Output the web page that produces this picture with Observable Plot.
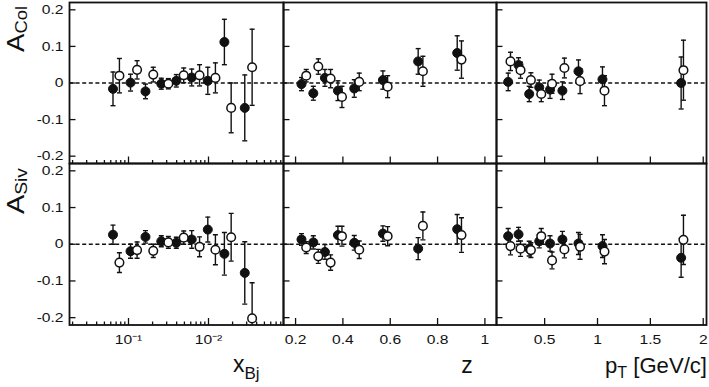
<!DOCTYPE html>
<html>
<head>
<meta charset="utf-8">
<script src="https://cdn.jsdelivr.net/npm/d3@7"></script>
<script src="https://cdn.jsdelivr.net/npm/@observablehq/plot@0.6"></script>
<style>
  body { margin: 0; background: #fff; }
  #chart { position: relative; width: 709px; height: 387px; overflow: hidden; background: #fff;
           font-family: "Liberation Sans", Arial, sans-serif; }
  #chart svg { position: absolute; overflow: visible; }
</style>
</head>
<body>
<div id="chart"></div>
<script>
// ---------------- data ----------------
// x_Bj bins (filled / open series are slightly offset)
const xbjFilledX = [0.0064, 0.0106, 0.0163, 0.0257, 0.0396, 0.0617, 0.098, 0.158, 0.284];
const xbjOpenX   = [0.0077, 0.0128, 0.0204, 0.0315, 0.049, 0.0773, 0.122, 0.192, 0.351];
const colXbjFilled    = [-0.016, 0.001, -0.023, -0.002, 0.006, 0.015, 0.006, 0.112, -0.068];
const colXbjFilledErr = [0.046, 0.023, 0.020, 0.015, 0.017, 0.023, 0.037, 0.062, 0.090];
const colXbjOpen      = [0.020, 0.036, 0.023, -0.002, 0.021, 0.021, 0.014, -0.068, 0.043];
const colXbjOpenErr   = [0.047, 0.025, 0.020, 0.014, 0.020, 0.029, 0.041, 0.068, 0.104];
const sivXbjFilled    = [0.026, -0.019, 0.020, 0.008, 0.004, 0.013, 0.040, -0.026, -0.078];
const sivXbjFilledErr = [0.026, 0.019, 0.017, 0.015, 0.015, 0.024, 0.034, 0.058, 0.085];
const sivXbjOpen      = [-0.050, -0.016, -0.018, 0.005, 0.018, -0.007, -0.015, 0.019, -0.202];
const sivXbjOpenErr   = [0.027, 0.022, 0.018, 0.016, 0.018, 0.027, 0.041, 0.065, 0.097];

// z bins
const zFilledX = [0.225, 0.275, 0.324, 0.379, 0.448, 0.569, 0.718, 0.883];
const zOpenX   = [0.245, 0.296, 0.348, 0.396, 0.469, 0.589, 0.738, 0.901];
const colZFilled    = [-0.003, -0.028, 0.014, -0.021, -0.015, 0.008, 0.059, 0.082];
const colZFilledErr = [0.018, 0.019, 0.023, 0.027, 0.024, 0.025, 0.035, 0.047];
const colZOpen      = [0.020, 0.045, 0.012, -0.038, 0.003, -0.010, 0.032, 0.064];
const colZOpenErr   = [0.017, 0.021, 0.025, 0.029, 0.024, 0.030, 0.041, 0.051];
const sivZFilled    = [0.013, 0.005, -0.021, 0.025, 0.004, 0.029, -0.012, 0.041];
const sivZFilledErr = [0.016, 0.018, 0.020, 0.024, 0.020, 0.021, 0.030, 0.040];
const sivZOpen      = [-0.009, -0.033, -0.050, 0.022, -0.015, 0.022, 0.050, 0.025];
const sivZOpenErr   = [0.016, 0.019, 0.021, 0.027, 0.024, 0.026, 0.038, 0.047];

// pT bins
const ptFilledX = [0.155, 0.253, 0.354, 0.449, 0.551, 0.668, 0.82, 1.047, 1.791];
const ptOpenX   = [0.177, 0.272, 0.37, 0.468, 0.57, 0.687, 0.835, 1.066, 1.813];
const colPtFilled    = [0.003, 0.049, -0.030, -0.012, -0.018, -0.021, 0.032, 0.010, 0.000];
const colPtFilledErr = [0.024, 0.020, 0.021, 0.020, 0.024, 0.024, 0.031, 0.034, 0.071];
const colPtOpen      = [0.059, 0.035, 0.008, -0.030, -0.002, 0.041, 0.005, -0.021, 0.035];
const colPtOpenErr   = [0.025, 0.022, 0.020, 0.021, 0.026, 0.027, 0.034, 0.041, 0.082];
const sivPtFilled    = [0.022, 0.027, -0.012, 0.008, 0.002, 0.013, 0.002, -0.005, -0.037];
const sivPtFilledErr = [0.021, 0.019, 0.020, 0.018, 0.021, 0.022, 0.030, 0.031, 0.053];
const sivPtOpen      = [-0.005, -0.012, -0.016, 0.022, -0.044, -0.014, -0.007, -0.020, 0.012];
const sivPtOpenErr   = [0.024, 0.021, 0.020, 0.021, 0.023, 0.023, 0.034, 0.033, 0.067];

// ticks & labels
const yTicks = [-0.2, -0.1, 0, 0.1, 0.2];
const yTickLabels = ["-0.2", "-0.1", "0", "0.1", "0.2"];
const xbjTicks = [0.01, 0.1];
const xbjTickLabels = ["10\u207B\u00B9", "10\u207B\u00B2"];
const zTicks = [0.2, 0.4, 0.6, 0.8, 1];
const zTickLabels = ["0.2", "0.4", "0.6", "0.8", "1"];
const ptTicks = [0.5, 1, 1.5, 2];
const ptTickLabels = ["0.5", "1", "1.5", "2"];
const rowTitles = ["Col", "Siv"];

// ---------------- layout ----------------
const colEdges = [69, 283, 496, 706];
const rowEdges = [1.5, 162.5, 324];
const yDomain = [-0.22, 0.22];
const xbjDomain = [0.00183, 0.866];
const zDomain = [0.149, 1.049];
const ptDomain = [0.0446, 2.031];
const xbjMinorTicks = d3.range(2, 10).flatMap(m => [m * 1e-3, m * 1e-2, m * 1e-1])
  .filter(v => v > xbjDomain[0] && v < xbjDomain[1]);

const zip = (xs, vs, es) => xs.map((x, i) => ({x, v: vs[i], e: es[i]}));
const hTick = len => ({draw(ctx) { ctx.moveTo(0, 0); ctx.lineTo(len, 0); }});
const vTick = len => ({draw(ctx) { ctx.moveTo(0, 0); ctx.lineTo(0, -len); }});
const cap = {draw(ctx) { ctx.moveTo(-2.5, 0); ctx.lineTo(2.5, 0); }};
const lbl = (ticks, labels) => d => labels[ticks.findIndex(t => Math.abs(t - d) < 1e-9)];

const columns = [
  {type: "log", domain: xbjDomain, ticks: xbjTicks, labels: xbjTickLabels, minor: xbjMinorTicks,
   rows: [
     {filled: zip(xbjFilledX, colXbjFilled, colXbjFilledErr), open: zip(xbjOpenX, colXbjOpen, colXbjOpenErr)},
     {filled: zip(xbjFilledX, sivXbjFilled, sivXbjFilledErr), open: zip(xbjOpenX, sivXbjOpen, sivXbjOpenErr)}]},
  {type: "linear", domain: zDomain, ticks: zTicks, labels: zTickLabels, minor: [],
   rows: [
     {filled: zip(zFilledX, colZFilled, colZFilledErr), open: zip(zOpenX, colZOpen, colZOpenErr)},
     {filled: zip(zFilledX, sivZFilled, sivZFilledErr), open: zip(zOpenX, sivZOpen, sivZOpenErr)}]},
  {type: "linear", domain: ptDomain, ticks: ptTicks, labels: ptTickLabels, minor: [],
   rows: [
     {filled: zip(ptFilledX, colPtFilled, colPtFilledErr), open: zip(ptOpenX, colPtOpen, colPtOpenErr)},
     {filled: zip(ptFilledX, sivPtFilled, sivPtFilledErr), open: zip(ptOpenX, sivPtOpen, sivPtOpenErr)}]}
];

const chart = document.getElementById("chart");
const ink = "#111";

columns.forEach((col, ci) => {
  col.rows.forEach((row, ri) => {
    const x0 = colEdges[ci], x1 = colEdges[ci + 1], y0 = rowEdges[ri], y1 = rowEdges[ri + 1];
    const mL = ci === 0 ? x0 : 2, mR = 2, mT = 2, mB = ri === 1 ? 40 : 2;
    const errMarks = data => [
      Plot.ruleX(data, {x: "x", y1: d => d.v - d.e, y2: d => d.v + d.e, stroke: ink, strokeWidth: 1.4, clip: true}),
      Plot.dot(data, {x: "x", y: d => d.v + d.e, symbol: cap, fill: "none", stroke: ink, strokeWidth: 1.4, clip: true}),
      Plot.dot(data, {x: "x", y: d => d.v - d.e, symbol: cap, fill: "none", stroke: ink, strokeWidth: 1.4, clip: true})
    ];
    const svg = Plot.plot({
      width: x1 - x0 + mL + mR,
      height: y1 - y0 + mT + mB,
      marginLeft: mL, marginRight: mR, marginTop: mT, marginBottom: mB,
      style: {background: "transparent", fontSize: "13px", fontFamily: "Liberation Sans, Arial, sans-serif", color: ink},
      x: {type: col.type, domain: col.domain, ticks: col.ticks, tickFormat: lbl(col.ticks, col.labels),
          tickSize: 0, tickPadding: 10, label: null, axis: ri === 1 ? "bottom" : null},
      y: {domain: yDomain, ticks: yTicks, tickFormat: lbl(yTicks, yTickLabels),
          tickSize: 0, tickPadding: 6, label: null, axis: ci === 0 ? "left" : null},
      marks: [
        Plot.ruleY([0], {stroke: ink, strokeWidth: 1.3, strokeDasharray: "4,2.6"}),
        Plot.dot(yTicks, {y: d => d, frameAnchor: "left", symbol: hTick(6), fill: "none", stroke: ink, strokeWidth: 1.3}),
        Plot.dot(col.ticks.filter(t => t >= col.domain[0] && t <= col.domain[1]),
          {x: d => d, frameAnchor: "bottom", symbol: vTick(7), fill: "none", stroke: ink, strokeWidth: 1.3}),
        Plot.dot(col.minor, {x: d => d, frameAnchor: "bottom", symbol: vTick(3.5), fill: "none", stroke: ink, strokeWidth: 1.3}),
        ...errMarks(row.filled),
        ...errMarks(row.open),
        Plot.dot(row.filled, {x: "x", y: "v", r: 4.5, fill: ink, stroke: ink, strokeWidth: 1}),
        Plot.dot(row.open, {x: "x", y: "v", r: 4.3, fill: "white", stroke: ink, strokeWidth: 1.5}),
        Plot.frame({stroke: ink, strokeWidth: 1.8})
      ]
    });
    svg.style.left = (x0 - mL) + "px";
    svg.style.top = (y0 - mT) + "px";
    chart.appendChild(svg);
  });
});

// ---------------- titles ----------------
const over = d3.select(chart).append("svg")
  .attr("width", 709).attr("height", 387)
  .style("left", "0px").style("top", "0px")
  .attr("font-family", "Liberation Sans, Arial, sans-serif")
  .attr("fill", ink);

[[52, 0], [214, 1]].forEach(([y, i]) => {
  const t = over.append("text").attr("transform", `translate(24,${y}) rotate(-90)`);
  t.append("tspan").attr("font-size", 24).text("A");
  t.append("tspan").attr("font-size", 16).attr("dy", 3).text(rowTitles[i]);
  t.attr("textLength", 46).attr("lengthAdjust", "spacingAndGlyphs");
});

const xt = over.append("text").attr("x", 233).attr("y", 372);
xt.append("tspan").attr("font-size", 23).text("x");
xt.append("tspan").attr("font-size", 17).attr("dy", 7).text("Bj");

over.append("text").attr("x", 467).attr("y", 373).attr("text-anchor", "middle")
  .attr("font-size", 23).text("z");

const pt = over.append("text").attr("x", 605).attr("y", 373);
pt.append("tspan").attr("font-size", 22).text("p");
pt.append("tspan").attr("font-size", 16).attr("dy", 5).text("T");
pt.append("tspan").attr("font-size", 22).attr("dy", -5).text(" [GeV/c]");
pt.attr("textLength", 102).attr("lengthAdjust", "spacingAndGlyphs");

// widen tick labels like the reference font
chart.querySelectorAll("svg[class*='plot'] g[aria-label$='tick label'] text").forEach(el => {
  const w = el.getComputedTextLength();
  el.setAttribute("textLength", w * 1.2);
  el.setAttribute("lengthAdjust", "spacingAndGlyphs");
});
</script>
</body>
</html>
